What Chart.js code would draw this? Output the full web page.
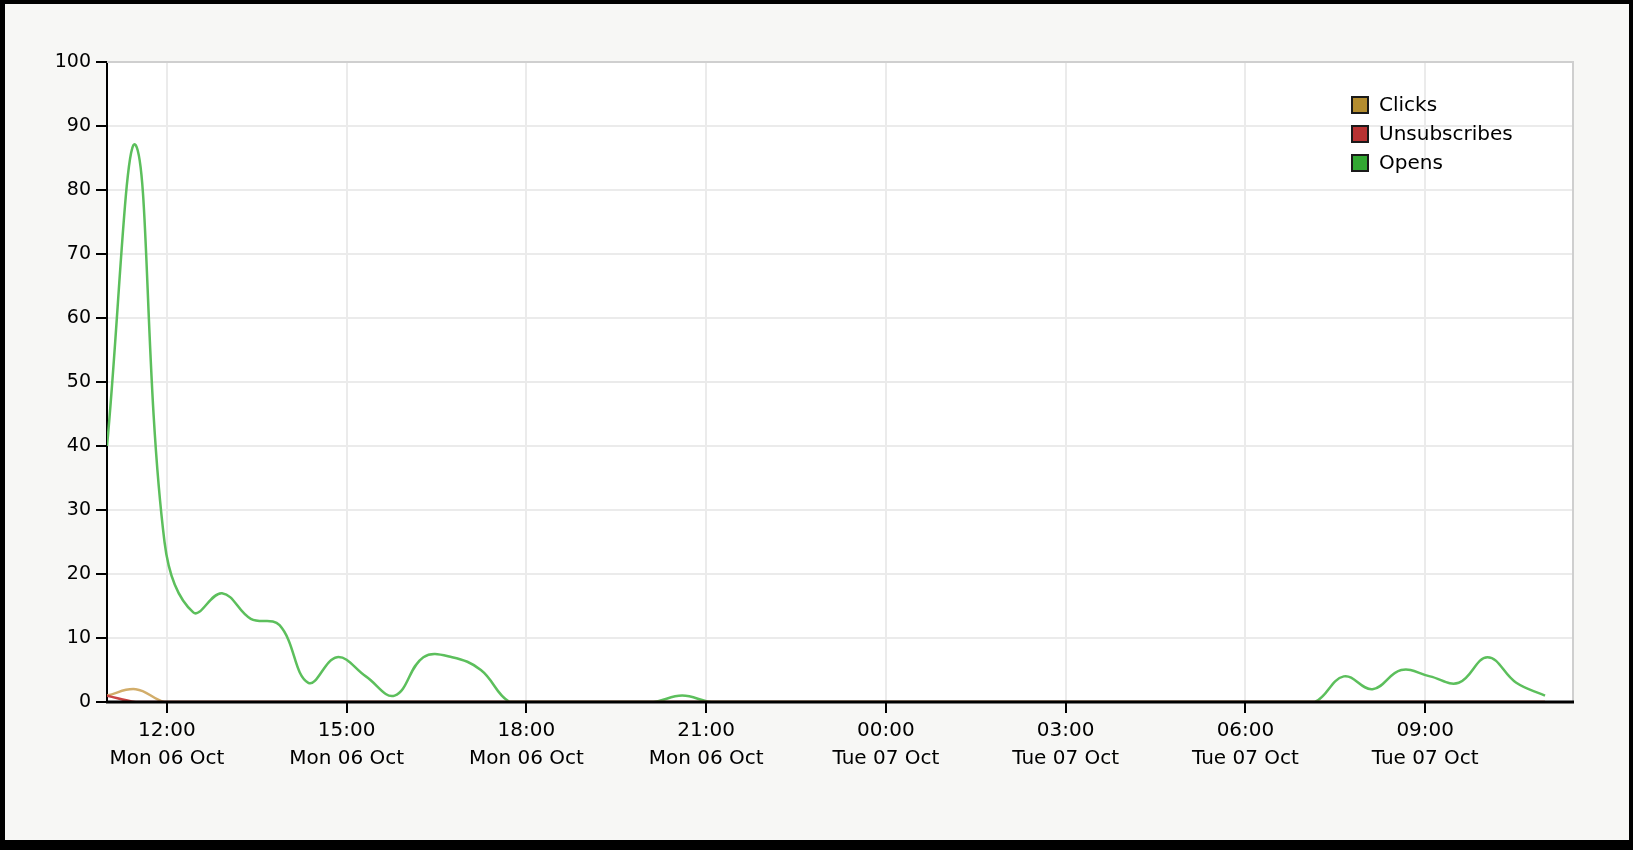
<!DOCTYPE html>
<html>
<head>
<meta charset="utf-8">
<script src="https://cdn.jsdelivr.net/npm/chart.js@4.4.1/dist/chart.umd.min.js"></script>
<style>
  html, body { margin: 0; padding: 0; background: #000; overflow: hidden; }
  #panel { position: absolute; left: 5px; top: 4px; width: 1624px; height: 836px; background: #f7f7f5; }
  #wrap { position: absolute; left: 0; top: 0; width: 1633px; height: 850px; }
</style>
</head>
<body>
<div id="panel"></div>
<div id="wrap"><canvas id="statsChart"></canvas></div>
<script>
// Sample times, minutes after Mon 06 Oct 11:00
const sampleMinutes = [
  0, 28.8, 57.6, 86.4, 115.2, 144, 172.8, 201.6, 230.4, 259.2,
  288, 316.8, 345.6, 374.4, 403.2, 432, 460.8, 489.6, 518.4, 547.2,
  576, 604.8, 633.6, 662.4, 691.2, 720, 748.8, 777.6, 806.4, 835.2,
  864, 892.8, 921.6, 950.4, 979.2, 1008, 1036.8, 1065.6, 1094.4, 1123.2,
  1152, 1180.8, 1209.6, 1238.4, 1267.2, 1296, 1324.8, 1353.6, 1382.4, 1411.2,
  1440
];

const opens = [
  40, 87, 25, 14, 17, 13, 12, 3, 7, 4,
  1, 7, 7, 5, 0, 0, 0, 0, 0, 0,
  1, 0, 0, 0, 0, 0, 0, 0, 0, 0,
  0, 0, 0, 0, 0, 0, 0, 0, 0, 0,
  0, 0, 0, 4, 2, 5, 4, 3, 7, 3,
  1
];

const clicks = [
  1, 2, 0, 0, 0, 0, 0, 0, 0, 0,
  0, 0, 0, 0, 0, 0, 0, 0, 0, 0,
  0, 0, 0, 0, 0, 0, 0, 0, 0, 0,
  0, 0, 0, 0, 0, 0, 0, 0, 0, 0,
  0, 0, 0, 0, 0, 0, 0, 0, 0, 0,
  0
];

const unsubscribes = [
  1, 0, 0, 0, 0, 0, 0, 0, 0, 0,
  0, 0, 0, 0, 0, 0, 0, 0, 0, 0,
  0, 0, 0, 0, 0, 0, 0, 0, 0, 0,
  0, 0, 0, 0, 0, 0, 0, 0, 0, 0,
  0, 0, 0, 0, 0, 0, 0, 0, 0, 0,
  0
];

// x-axis ticks (minutes after 11:00) and their two-line labels
const tickMinutes = [60, 240, 420, 600, 780, 960, 1140, 1320];
const tickTimes = ["12:00", "15:00", "18:00", "21:00", "00:00", "03:00", "06:00", "09:00"];
const tickDays = ["Mon 06 Oct", "Mon 06 Oct", "Mon 06 Oct", "Mon 06 Oct",
                  "Tue 07 Oct", "Tue 07 Oct", "Tue 07 Oct", "Tue 07 Oct"];

const FONT = "'DejaVu Sans', sans-serif";
const toPts = (vals) => vals.map((v, i) => ({ x: sampleMinutes[i], y: v }));

/**
 * Plot frame plugin: white plot background, grey top/right border,
 * black base line over the zero runs, and the boxed legend.
 */
const plotFrame = {
  id: "plotFrame",

  beforeDraw(chart) {
    const { ctx, chartArea: a } = chart;
    ctx.save();
    ctx.fillStyle = "#ffffff";
    ctx.fillRect(a.left, a.top, a.right - a.left, a.bottom - a.top);
    ctx.restore();
  },

  beforeDatasetsDraw(chart) {
    const { ctx, chartArea: a } = chart;
    ctx.save();
    ctx.strokeStyle = "#cfcfcf";
    ctx.lineWidth = 2;
    ctx.beginPath();
    ctx.moveTo(a.left, a.top);
    ctx.lineTo(a.right, a.top);
    ctx.lineTo(a.right, a.bottom);
    ctx.stroke();
    ctx.restore();
  },

  afterDatasetsDraw(chart) {
    // zero values sit under the axis line in the original
    const { ctx, chartArea: a } = chart;
    ctx.save();
    ctx.strokeStyle = "#000";
    ctx.lineWidth = 3;
    ctx.beginPath();
    ctx.moveTo(a.left - 1, a.bottom);
    ctx.lineTo(a.right + 1, a.bottom);
    ctx.stroke();
    ctx.restore();
  },

  afterDraw(chart) {
    const { ctx, chartArea: a } = chart;
    const x0 = a.right - 221, y0 = a.top + 35, rowH = 29, box = 16;
    ctx.save();
    ctx.font = "20px " + FONT;
    ctx.textBaseline = "middle";
    chart.data.datasets.forEach((ds, i) => {
      const y = y0 + i * rowH;
      ctx.fillStyle = ds.legendColor;
      ctx.fillRect(x0, y, box, box);
      ctx.strokeStyle = "#1a1a1a";
      ctx.lineWidth = 2;
      ctx.strokeRect(x0, y, box, box);
      ctx.fillStyle = "#000";
      ctx.fillText(ds.label, x0 + 27, y + box / 2 + 1);
    });
    ctx.restore();
  },
};

const lineStyle = {
  borderWidth: 2.5,
  pointRadius: 0,
  tension: 0.4,
  fill: false,
};

new Chart(document.getElementById("statsChart"), {
  type: "line",
  data: {
    datasets: [
      { ...lineStyle, label: "Clicks", data: toPts(clicks), borderColor: "#d2ad6a", legendColor: "#b38c2f", order: 1 },
      { ...lineStyle, label: "Unsubscribes", data: toPts(unsubscribes), borderColor: "#c94444", legendColor: "#b83333", order: 0 },
      { ...lineStyle, label: "Opens", data: toPts(opens), borderColor: "#5cbf5c", legendColor: "#33a833", order: 2 },
    ],
  },
  plugins: [plotFrame],
  options: {
    responsive: true,
    maintainAspectRatio: false,
    animation: false,
    devicePixelRatio: 1,
    layout: { padding: { top: 62, right: 60, left: 0, bottom: 0 } },
    plugins: { legend: { display: false }, tooltip: { enabled: false } },
    scales: {
      x: {
        type: "linear",
        min: 0,
        max: 1468,
        afterBuildTicks: (s) => { s.ticks = tickMinutes.map(v => ({ value: v })); },
        afterFit: (s) => { s.height = 148; },
        ticks: {
          autoSkip: false,
          maxRotation: 0,
          padding: 4,
          color: "#000",
          font: { family: FONT, size: 20, lineHeight: 1.4 },
          callback: (v, i) => [tickTimes[i], tickDays[i]],
        },
        grid: { color: "#ebebeb", lineWidth: 2, tickLength: 11, tickColor: "#000", tickWidth: 2 },
        border: { color: "#000", width: 2 },
      },
      y: {
        min: 0,
        max: 100,
        afterFit: (s) => { s.width = 107; },
        ticks: {
          stepSize: 10,
          padding: 5,
          color: "#000",
          font: { family: FONT, size: 19 },
        },
        grid: { color: "#ebebeb", lineWidth: 2, tickLength: 11, tickColor: "#000", tickWidth: 2 },
        border: { color: "#000", width: 2 },
      },
    },
  },
});
</script>
</body>
</html>
